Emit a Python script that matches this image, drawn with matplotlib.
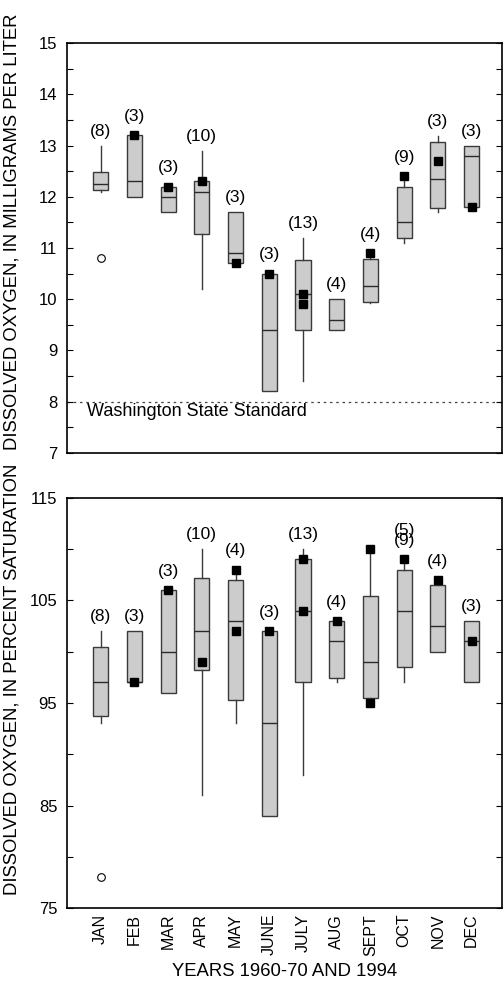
import matplotlib
matplotlib.use("Agg")
import matplotlib.pyplot as plt
from matplotlib.ticker import MultipleLocator

plt.rcParams["font.family"] = ["Liberation Sans", "DejaVu Sans"]

MONTHS = ["JAN", "FEB", "MAR", "APR", "MAY", "JUNE",
          "JULY", "AUG", "SEPT", "OCT", "NOV", "DEC"]

# dissolved oxygen, mg/L
DO_COUNT  = [8, 3, 3, 10, 3, 3, 13, 4, 4, 9, 3, 3]
DO_WHISHI = [13.0, 13.2, 12.2, 12.9, 11.7, 10.5, 11.2, 10.0, 10.9, 12.4, 13.19, 13.0]
DO_Q3     = [12.48, 13.2, 12.2, 12.3, 11.7, 10.5, 10.76, 10.0, 10.78, 12.2, 13.08, 13.0]
DO_MED    = [12.25, 12.3, 12.0, 12.1, 10.9, 9.4, 10.1, 9.6, 10.25, 11.5, 12.35, 12.8]
DO_Q1     = [12.13, 12.0, 11.7, 11.28, 10.7, 8.2, 9.4, 9.4, 9.95, 11.2, 11.78, 11.8]
DO_WHISLO = [12.1, 12.0, 11.7, 10.2, 10.7, 8.2, 8.4, 9.4, 9.93, 11.1, 11.71, 11.8]
DO_OUTLIERS = [[10.8], [], [], [], [], [], [], [], [], [], [], []]
DO_1994 = [[], [13.2], [12.2], [12.3], [10.7], [10.5],
           [10.1, 9.9], [], [10.9], [12.4], [12.7], [11.8]]
STANDARD = 8.0

# dissolved oxygen, percent saturation
SAT_COUNT  = [8, 3, 3, 10, 4, 3, 13, 4, 5, 9, 4, 3]
SAT_WHISHI = [102.0, 102.0, 106.0, 110.0, 108.0, 102.0, 110.0, 103.0, 110.0, 109.0, 107.0, 103.0]
SAT_Q3     = [100.45, 102.0, 106.0, 107.2, 107.0, 102.0, 109.0, 103.0, 105.45, 108.0, 106.47, 103.0]
SAT_MED    = [97.0, 97.0, 100.0, 102.0, 103.0, 93.0, 104.0, 101.0, 99.0, 104.0, 102.5, 101.0]
SAT_Q1     = [93.7, 97.0, 96.0, 98.2, 95.26, 84.0, 97.0, 97.47, 95.46, 98.48, 100.0, 97.0]
SAT_WHISLO = [93.0, 97.0, 96.0, 86.0, 93.0, 84.0, 88.0, 97.0, 95.0, 97.0, 100.0, 97.0]
SAT_OUTLIERS = [[78.0], [], [], [], [], [], [], [], [], [], [], []]
SAT_1994 = [[], [97.0], [106.0], [99.0], [108.0, 102.0], [102.0],
            [109.0, 104.0], [103.0], [110.0, 95.0], [109.0], [107.0], [101.0]]

POS = list(range(1, len(MONTHS) + 1))


def stats(whislo, q1, med, q3, whishi, outliers):
    return [dict(whislo=a, q1=b, med=c, q3=d, whishi=e, fliers=f)
            for a, b, c, d, e, f in zip(whislo, q1, med, q3, whishi, outliers)]


def panel(ax, st, yr, counts, label_pos):
    ax.bxp(st, positions=POS, widths=0.45, patch_artist=True, showcaps=False,
           boxprops=dict(facecolor="#cccccc", edgecolor="#3a3a3a", linewidth=1.0),
           medianprops=dict(color="#2a2a2a", linewidth=1.0),
           whiskerprops=dict(color="#3a3a3a", linewidth=1.0),
           flierprops=dict(marker="o", markerfacecolor="white",
                           markeredgecolor="black", markersize=5.5,
                           markeredgewidth=0.8))
    for p, vals in zip(POS, yr):
        if vals:
            ax.plot([p] * len(vals), vals, ls="none", marker="s",
                    ms=6, color="black", zorder=5)
    for i, (p, n) in enumerate(zip(label_pos, counts)):
        top = st[i]["whishi"]
        sq = max(yr[i]) if yr[i] else -1e9
        off = 13.5 if sq >= top else 10.5
        ax.annotate(f"({n})", (p, max(top, sq)), xytext=(0, off),
                    textcoords="offset points", ha="center", va="center",
                    fontsize=12.5)
    ax.set_xlim(0, 12.9)
    ax.tick_params(axis="y", which="both", direction="in", left=True,
                   right=True, length=4, width=0.8, labelsize=12, pad=7)
    for s in ax.spines.values():
        s.set_linewidth(1.2)


fig = plt.figure(figsize=(5.04, 9.88), dpi=100)

ax1 = fig.add_axes([0.1329, 0.5418, 0.863, 0.4144])
panel(ax1, stats(DO_WHISLO, DO_Q1, DO_MED, DO_Q3, DO_WHISHI, DO_OUTLIERS),
      DO_1994, DO_COUNT, POS)
ax1.axhline(STANDARD, color="#444444", lw=0.9, ls=(0, (2, 3)), zorder=0)
ax1.text(0.045, STANDARD - 0.2, "Washington State Standard",
         transform=ax1.get_yaxis_transform(), ha="left", va="center",
         fontsize=13)
ax1.set_ylim(7, 15)
ax1.yaxis.set_major_locator(MultipleLocator(1))
ax1.yaxis.set_minor_locator(MultipleLocator(0.5))
ax1.set_xticks([])

ax2 = fig.add_axes([0.1329, 0.0807, 0.863, 0.4156])
# the SEPT count label sits over OCT in the original
sat_label_pos = [p + 1 if m == "SEPT" else p for p, m in zip(POS, MONTHS)]
panel(ax2, stats(SAT_WHISLO, SAT_Q1, SAT_MED, SAT_Q3, SAT_WHISHI, SAT_OUTLIERS),
      SAT_1994, SAT_COUNT, sat_label_pos)
ax2.set_ylim(75, 115)
ax2.set_yticks([75, 85, 95, 105, 115])
ax2.yaxis.set_minor_locator(MultipleLocator(5))
ax2.set_xticks(POS, MONTHS, rotation=90, fontsize=11.5)
ax2.tick_params(axis="x", length=0, pad=4)

fig.text(0.024, 0.765, "DISSOLVED OXYGEN, IN MILLIGRAMS PER LITER",
         rotation=90, ha="center", va="center", fontsize=13.3)
fig.text(0.024, 0.312, "DISSOLVED OXYGEN, IN PERCENT SATURATION",
         rotation=90, ha="center", va="center", fontsize=13.3)
fig.text(0.5645, 0.0167, "YEARS 1960-70 AND 1994",
         ha="center", va="center", fontsize=13.3)

fig.savefig("out.png", dpi=100)
plt.close(fig)
